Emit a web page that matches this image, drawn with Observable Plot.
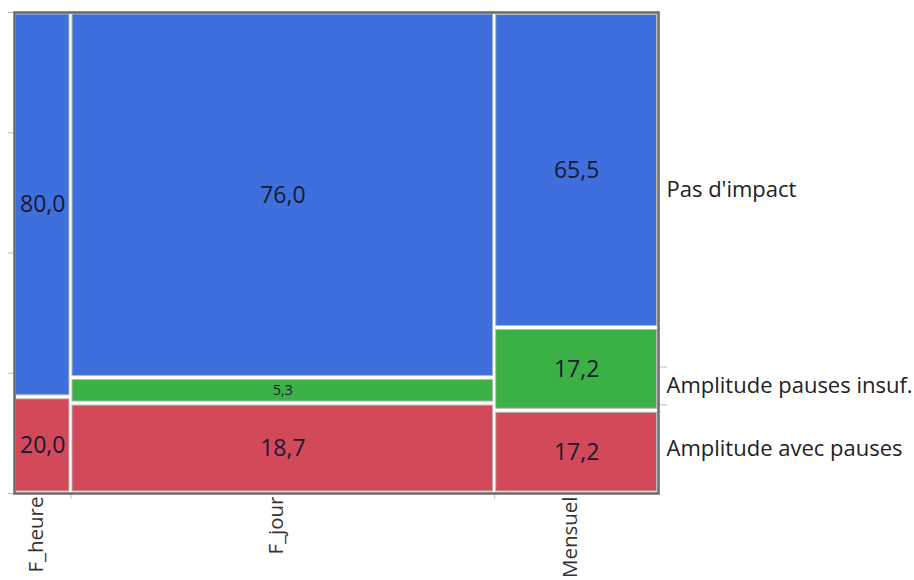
<!DOCTYPE html>
<html>
<head>
<meta charset="utf-8">
<script src="https://cdn.jsdelivr.net/npm/d3@7"></script>
<script src="https://cdn.jsdelivr.net/npm/@observablehq/plot@0.6"></script>
<style>
  html, body { margin: 0; padding: 0; background: #fff; }
</style>
</head>
<body>
<div id="chart"></div>
<script>
const columns = ["F_heure", "F_jour", "Mensuel"];
const counts = [10, 75, 29];
const responses = ["Amplitude avec pauses", "Amplitude pauses insuf.", "Pas d'impact"];
const avecPauses = [20.0, 18.7, 17.2];
const pausesInsuf = [0.0, 5.3, 17.2];
const pasImpact = [80.0, 76.0, 65.5];
const colors = ["#d4495a", "#3bb145", "#3f6fdd"];

const series = [avecPauses, pausesInsuf, pasImpact];
const N = d3.sum(counts);

// Build mosaic cells
const cells = [];
const cols = [];
let cx = 0;
columns.forEach((c, i) => {
  const x1 = cx, x2 = cx + counts[i];
  cols.push({name: c, x1, x2, mid: (x1 + x2) / 2});
  let cy = 0;
  series.forEach((s, k) => {
    const v = s[i];
    if (v > 0) {
      cells.push({col: c, resp: responses[k], x1, x2, y1: cy, y2: cy + v, pct: v, color: colors[k]});
    }
    cy += v;
  });
  cx = x2;
});

// Marginal distribution for right axis
const margins = [];
let my = 0;
series.forEach((s, k) => {
  const m = d3.sum(s.map((v, i) => v * counts[i])) / N;
  margins.push({name: responses[k], y1: my, y2: my + m, mid: my + m / 2});
  my += m;
});
const rightTicks = margins.slice(0, -1).map(d => d.y2);
const bottomTicks = cols.slice(0, -1).map(d => d.x2);

const fmt = v => v.toFixed(1).replace(".", ",");

const chart = Plot.plot({
  width: 914,
  height: 580,
  marginLeft: 14,
  marginRight: 256,
  marginTop: 12,
  marginBottom: 87,
  x: {domain: [0, N], axis: null},
  y: {domain: [0, 100], axis: null},
  style: {fontFamily: "'Open Sans', sans-serif", background: "white"},
  marks: [
    Plot.rect(cells, {
      x1: "x1", x2: "x2", y1: "y1", y2: "y2",
      fill: d => d.color,
      stroke: "#b8b8b8", strokeWidth: 1,
      insetLeft: 1.5, insetRight: 1.5, insetTop: 2, insetBottom: 2
    }),
    Plot.text(cells, {
      x: d => (d.x1 + d.x2) / 2,
      y: d => (d.y1 + d.y2) / 2,
      text: d => fmt(d.pct),
      fontSize: d => d.pct < 8 ? 14 : 23,
      fill: "#161a33"
    }),
    Plot.axisY({anchor: "left", ticks: [0, 25, 50, 75, 100], tickSize: 6, tickFormat: () => "", stroke: "#bdbdbd", label: null}),
    Plot.axisY({anchor: "right", ticks: rightTicks, tickSize: 8, tickFormat: () => "", stroke: "#bdbdbd", label: null}),
    Plot.axisX({anchor: "bottom", ticks: bottomTicks, tickSize: 6, tickFormat: () => "", stroke: "#bdbdbd", label: null}),
    Plot.text(margins, {
      y: "mid", text: "name", frameAnchor: "right", dx: 8,
      textAnchor: "start", fontSize: 22, fill: "#222"
    }),
    Plot.text(cols, {
      x: "mid", text: "name", frameAnchor: "bottom", dy: 3,
      rotate: -90, textAnchor: "end", fontSize: 20.5, fill: "#333"
    }),
    Plot.frame({stroke: "#6a6a6a", strokeWidth: 2.5})
  ]
});
document.getElementById("chart").appendChild(chart);
</script>
</body>
</html>
